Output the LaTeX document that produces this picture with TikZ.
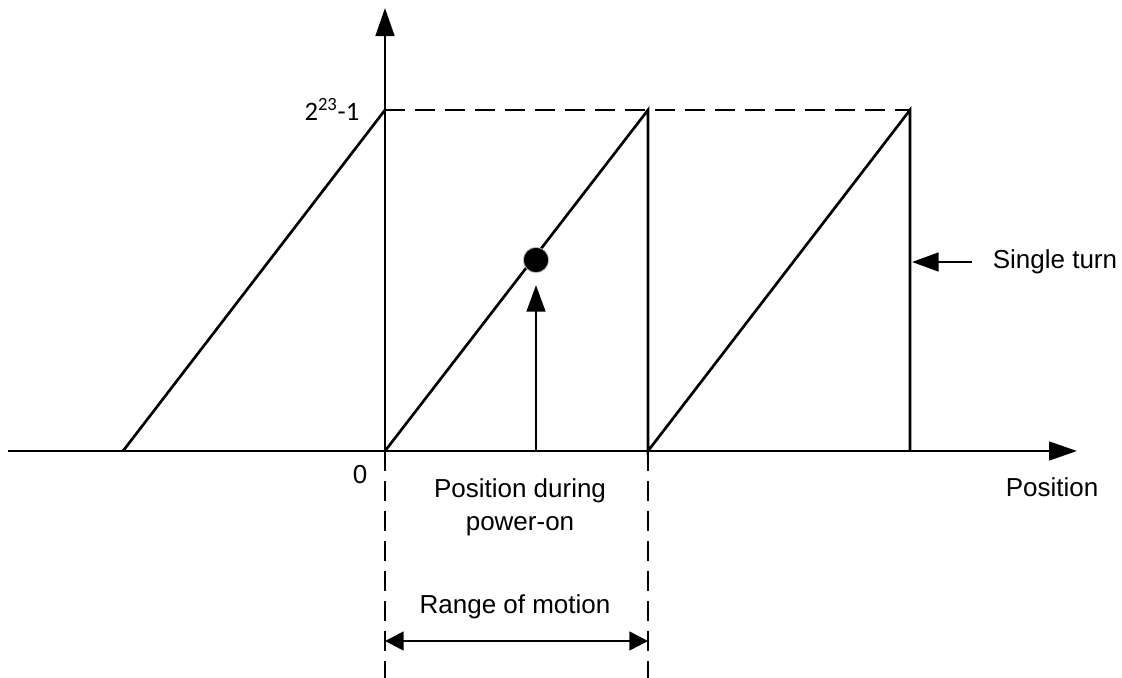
\documentclass[tikz,border=0pt]{standalone}
\usepackage{fontspec}
\setmainfont{Liberation Sans}
\newfontfamily\calibri{Carlito}
\usetikzlibrary{arrows.meta, positioning}
\definecolor{ink}{HTML}{000000}
\tikzset{
  axis/.style    = {line width=2pt, ink, -{Triangle[length=21pt,width=14pt]}},
  ramp/.style    = {line width=2pt, ink},
  guide/.style   = {line width=1.8pt, ink, dash pattern=on 15pt off 7.5pt},
  pointer/.style = {line width=2pt, ink, -{Triangle[length=20pt,width=14pt]}},
  span/.style    = {line width=2pt, ink,
                    {Triangle[length=14pt,width=14pt]}-{Triangle[length=14pt,width=14pt]}},
  labl/.style    = {font=\fontsize{19.5}{25}\selectfont, align=center, text=ink},
}

\begin{document}
\begin{tikzpicture}[x=0.75pt, y=-0.75pt]
  \useasboundingbox (0,0) rectangle (1122,678);

  % axes
  \coordinate (origin) at (385,451);
  \coordinate (xstart) at (8,451);
  \coordinate (xend)   at (1077,451);
  \coordinate (yend)   at (385,8);
  \draw[axis] (xstart) -- (xend);
  \draw[axis] (origin) -- (yend);

  % turn ramps
  \coordinate (a0) at (123,451);
  \coordinate (a1) at (385,110);
  \coordinate (b0) at (648,451);
  \coordinate (b1) at (648,110);
  \coordinate (c1) at (910,110);
  \coordinate (c0) at (910,451);
  \draw[ramp] (a0) -- (a1);
  \draw[ramp] (origin) -- (b1) -- (b0) -- (c1) -- (c0);
  \draw[guide] (a1) -- (c1);

  % range of motion
  \coordinate (g1) at (385,678);
  \coordinate (g2) at (648,678);
  \draw[guide] (origin) -- (g1);
  \draw[guide] (b0) -- (g2);
  \coordinate (r1) at (385,641);
  \coordinate (r2) at (648,641);
  \draw[span] (r1) -- (r2);

  % labels
  \node[labl] (zero)  at (360,475) {0};
  \node[font=\calibri\fontsize{20}{24}\selectfont, anchor=east] (top) at (364,109)
    {2\textsuperscript{23}-1};
  \node[labl] (pwrtxt) at (520,507) {Position during\\power-on};
  \node[labl] (range)  at (515,607) {Range of motion};
  \node[labl] (xlab)   at (1052,487) {Position};
  \node[labl] (turn)   at (1055,262) {Single turn};

  % power-on point
  \node[circle, fill=ink, draw=gray!50, line width=0.6pt,
        minimum size=19pt, inner sep=0pt] (dot) at (536,260) {};
  \coordinate (pwr) at (536,451);
  \draw[pointer, shorten >=9pt] (pwr) -- (dot);

  % single turn pointer
  \coordinate (hit) at (912,262);
  \draw[pointer] ([xshift=-12pt]turn.west) -- (hit);

\end{tikzpicture}
\end{document}
